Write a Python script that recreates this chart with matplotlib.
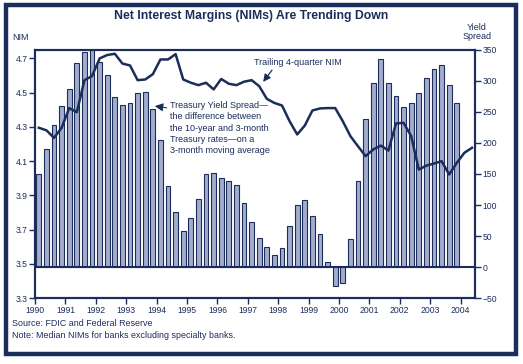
import matplotlib
matplotlib.use("Agg")
import matplotlib.pyplot as plt
from matplotlib.patches import Rectangle
import numpy as np

plt.rcParams['font.family'] = ['Liberation Sans', 'DejaVu Sans']

navy = '#1b2d5b'
barcol = '#a4acce'

# quarterly yield spread (basis points), 1990Q1 - 2003Q4
spread = [150, 191, 229, 259, 287, 329, 347, 349,
          331, 310, 274, 261, 264, 281, 282, 255,
          204, 131, 88, 58, 79, 110, 150, 151,
          144, 138, 133, 103, 72, 47, 32, 20,
          30, 67, 100, 108, 82, 53, 8, -30,
          -25, 46, 138, 239, 297, 336, 297, 276,
          258, 264, 281, 304, 319, 325, 294, 265]

# trailing 4-quarter NIM (%), 1990Q1 - 2004Q2
nim = [4.295, 4.28, 4.236, 4.295, 4.41, 4.386, 4.573, 4.597,
       4.70, 4.72, 4.727, 4.67, 4.659, 4.573, 4.577, 4.608,
       4.694, 4.694, 4.725, 4.577, 4.558, 4.544, 4.558, 4.519,
       4.58, 4.552, 4.544, 4.564, 4.573, 4.538, 4.464, 4.44,
       4.425, 4.333, 4.256, 4.308, 4.396, 4.408, 4.41, 4.41,
       4.333, 4.246, 4.187, 4.129, 4.168, 4.191, 4.162, 4.32,
       4.324, 4.246, 4.051, 4.074, 4.086, 4.10, 4.022, 4.09,
       4.149, 4.178]

years = list(range(1990, 2005))
x_bar = 1990.125 + 0.25 * np.arange(len(spread))
x_nim = 1990.125 + 0.25 * np.arange(len(nim))

fig = plt.figure(figsize=(5.23, 3.64), dpi=100)
ax = fig.add_axes([0.067, 0.181, 0.841, 0.682])
ax2 = ax.twinx()

ax2.bar(x_bar, spread, width=0.155, color=barcol, edgecolor=navy, linewidth=0.8, zorder=2)
ax2.axhline(0, color=navy, lw=1.5, zorder=3)
ax2.set_ylim(-50, 350)
ax2.set_yticks(range(-50, 351, 50))

ax.plot(x_nim, nim, color=navy, lw=1.8, zorder=5)
ax.set_ylim(3.3, 4.75)
ax.set_yticks(np.arange(3.3, 4.71, 0.2))
ax.set_yticklabels(['%.1f' % v for v in np.arange(3.3, 4.71, 0.2)])
ax.set_xlim(1990, 2004.47)
ax.set_xticks(years)

ax.set_zorder(ax2.get_zorder() + 1)
ax.patch.set_visible(False)

for a in (ax, ax2):
    for s in a.spines.values():
        s.set_color(navy)
        s.set_linewidth(1.5)
    a.tick_params(colors=navy, labelcolor=navy, labelsize=6.2, length=4, width=1, pad=1.5)

# annotations
ax.text(1997.2, 4.678, 'Trailing 4-quarter NIM', color=navy, fontsize=6.5, va='center', ha='left')
ax.annotate('', xy=(1997.45, 4.55), xytext=(1997.85, 4.645),
            arrowprops=dict(arrowstyle='-|>', color=navy, lw=0.9, mutation_scale=11))
ax2.text(1994.45, 267, 'Treasury Yield Spread\u2014\nthe difference between\nthe 10-year and 3-month\nTreasury rates\u2014on a\n3-month moving average',
         color=navy, fontsize=6.5, va='top', ha='left', linespacing=1.3, zorder=6)
ax2.annotate('', xy=(1993.85, 260), xytext=(1994.42, 256),
             arrowprops=dict(arrowstyle='-|>', color=navy, lw=0.8, mutation_scale=12), zorder=6)

fig.text(251 / 523, 1 - 16 / 364, 'Net Interest Margins (NIMs) Are Trending Down',
         color=navy, fontsize=8.8, fontweight='bold', ha='center', va='center')
fig.text(12 / 523, 1 - 37 / 364, 'NIM', color=navy, fontsize=6.5, ha='left', va='center')
fig.text(477 / 523, 1 - 32 / 364, 'Yield\nSpread', color=navy, fontsize=6.5, ha='center',
         va='center', linespacing=1.1)
fig.text(12 / 523, 1 - 324 / 364, 'Source: FDIC and Federal Reserve', color=navy, fontsize=6.4,
         ha='left', va='center')
fig.text(12 / 523, 1 - 336 / 364, 'Note: Median NIMs for banks excluding specialty banks.',
         color=navy, fontsize=6.4, ha='left', va='center')

fig.patches.append(Rectangle((5.8 / 523, 10 / 364), 510 / 523, 349 / 364, transform=fig.transFigure,
                             fill=False, edgecolor=navy, linewidth=3.2))

fig.savefig('out.png', dpi=100)
